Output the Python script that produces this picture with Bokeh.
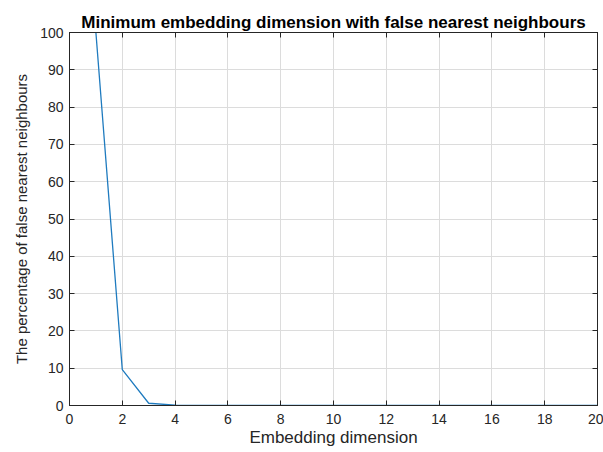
from bokeh.plotting import figure
from bokeh.models import LinearAxis, Range1d, FixedTicker
from bokeh.embed import file_html
from bokeh.resources import INLINE

dims = list(range(1, 21))
fnn = [100, 9.6, 0.6, 0.1, 0.05, 0.02, 0.01, 0, 0, 0, 0, 0, 0, 0, 0, 0, 0, 0, 0, 0]
x_ticks = [0, 2, 4, 6, 8, 10, 12, 14, 16, 18, 20]
y_ticks = [0, 10, 20, 30, 40, 50, 60, 70, 80, 90, 100]

FONT = "Liberation Sans"
AX = "#262626"

p = figure(width=603, height=452, output_backend="svg", toolbar_location=None,
           x_range=Range1d(0, 20), y_range=Range1d(0, 100),
           min_border_left=69, min_border_right=6, min_border_top=32, min_border_bottom=47,
           title="Minimum embedding dimension with false nearest neighbours")
p.title.text_font = FONT
p.title.text_font_size = "17px"
p.title.text_font_style = "bold"
p.title.text_color = "#000000"
p.title.align = "center"
p.title.offset = 0
p.title.standoff = 2

p.line(dims, fnn, line_color="#1f7bbf", line_width=1.3)

for ax in (p.xaxis[0], p.yaxis[0]):
    ax.major_tick_in = 5
    ax.major_tick_out = 0
    ax.minor_tick_in = 0
    ax.minor_tick_out = 0
    ax.axis_line_color = AX
    ax.major_tick_line_color = AX
    ax.major_label_text_font = FONT
    ax.major_label_text_font_size = "14px"
    ax.major_label_text_color = AX
    ax.axis_label_text_font = FONT
    ax.axis_label_text_font_style = "normal"
    ax.axis_label_text_color = AX

p.xaxis.axis_label_text_font_size = "17px"
p.yaxis.axis_label_text_font_size = "15px"
p.xaxis.ticker = FixedTicker(ticks=x_ticks)
p.yaxis.ticker = FixedTicker(ticks=y_ticks)
p.xaxis.axis_label = "Embedding dimension"
p.yaxis.axis_label = "The percentage of false nearest neighbours"
p.xaxis.major_label_standoff = 8
p.yaxis.major_label_standoff = 6
p.xaxis.axis_label_standoff = 1
p.yaxis.axis_label_standoff = 7

top = LinearAxis(ticker=FixedTicker(ticks=x_ticks), major_tick_in=5, major_tick_out=0,
                 minor_tick_in=0, minor_tick_out=0, axis_line_color=AX,
                 major_tick_line_color=AX,
                 major_label_overrides={t: "" for t in x_ticks})
right = LinearAxis(ticker=FixedTicker(ticks=y_ticks), major_tick_in=5, major_tick_out=0,
                   minor_tick_in=0, minor_tick_out=0, axis_line_color=AX,
                   major_tick_line_color=AX,
                   major_label_overrides={t: "" for t in y_ticks})
p.add_layout(top, "above")
p.add_layout(right, "right")

p.grid.grid_line_color = "#dcdcdc"
p.grid.grid_line_alpha = 1
p.outline_line_color = AX

open("out.html", "w").write(file_html(p, INLINE))
